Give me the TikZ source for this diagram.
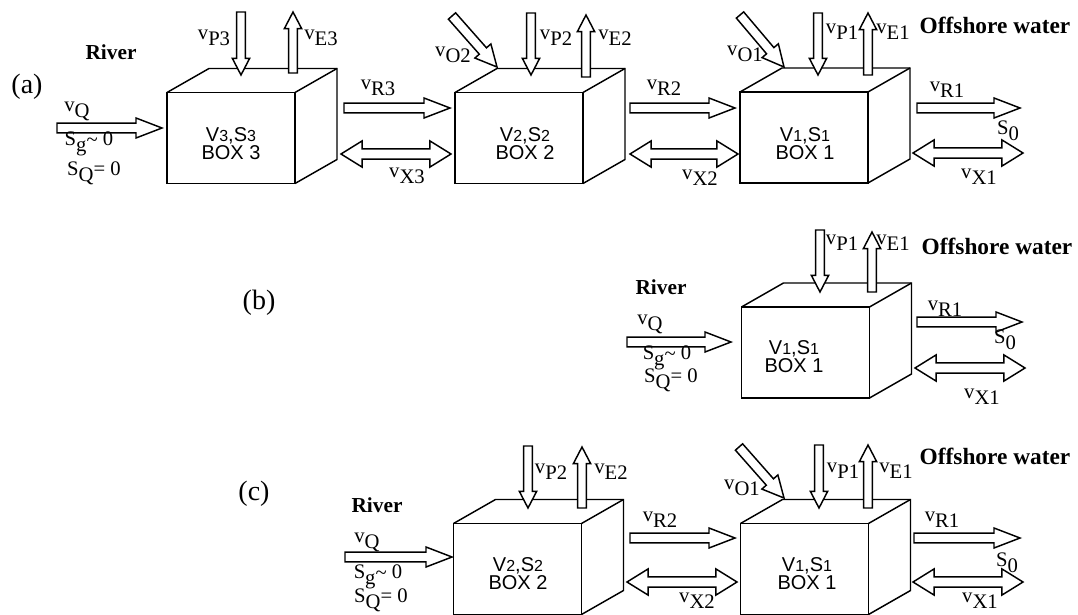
\documentclass[tikz,border=0pt]{standalone}
\usepackage{fontspec}
\setmainfont{Liberation Serif}
\setsansfont{Liberation Sans}
\usetikzlibrary{calc}

\newcommand{\sarrow}[6]{%
 \coordinate (#1-s) at (#2); \coordinate (#1-e) at (#3);
 \coordinate (#1-h) at ($(#1-e)!#6!(#1-s)$);
 \draw[blk] ($(#1-s)!#4!90:(#1-e)$) -- ($(#1-h)!#4!90:(#1-e)$) -- ($(#1-h)!#5!90:(#1-e)$) -- (#1-e) -- ($(#1-h)!#5!-90:(#1-e)$) -- ($(#1-h)!#4!-90:(#1-e)$) -- ($(#1-s)!#4!-90:(#1-e)$) -- cycle;}
\newcommand{\sdarrow}[6]{%
 \coordinate (#1-s) at (#2); \coordinate (#1-e) at (#3);
 \coordinate (#1-h1) at ($(#1-s)!#6!(#1-e)$);
 \coordinate (#1-h2) at ($(#1-e)!#6!(#1-s)$);
 \draw[blk] (#1-s) -- ($(#1-h1)!#5!90:(#1-e)$) -- ($(#1-h1)!#4!90:(#1-e)$) -- ($(#1-h2)!#4!90:(#1-e)$) -- ($(#1-h2)!#5!90:(#1-e)$) -- (#1-e) -- ($(#1-h2)!#5!-90:(#1-e)$) -- ($(#1-h2)!#4!-90:(#1-e)$) -- ($(#1-h1)!#4!-90:(#1-e)$) -- ($(#1-h1)!#5!-90:(#1-e)$) -- cycle;}
\newcommand{\harr}[3]{\sarrow{#1}{#2}{#3}{3.6pt}{7.5pt}{19.5pt}}
\newcommand{\varr}[3]{\sarrow{#1}{#2}{#3}{3.3pt}{6.5pt}{12.5pt}}
\newcommand{\oarr}[3]{\sarrow{#1}{#2}{#3}{3.6pt}{8pt}{16pt}}
\newcommand{\darr}[3]{\sdarrow{#1}{#2}{#3}{3.8pt}{9.8pt}{15.8pt}}
\newcommand{\cube}[2]{%
 \node[boxf] (#1) at (#2) {};
 \draw[edge] (#1.north west) -- ++(42,-24) coordinate (#1-tl) -- ++(128,0) coordinate (#1-tr) -- ($(#1.south east)+(42,-24)$) coordinate (#1-br) -- (#1.south east);
 \draw[edge] (#1.north east) -- (#1-tr);}
\newcommand{\vs}[1]{v\raisebox{-4.5pt}{#1}}
\newcommand{\dg}[1]{{\fontsize{12}{13}\selectfont #1}}
\newcommand{\sg}{S\raisebox{-4.5pt}{g}\raisebox{-1pt}{\textasciitilde}\ 0}
\newcommand{\sq}{S\raisebox{-4.5pt}{Q}=\ 0}
\newcommand{\szero}{S\raisebox{-4.5pt}{0}}

\tikzset{
 blk/.style={draw=black, line width=1.1pt, fill=white, line join=miter},
 edge/.style={draw=black, line width=1.1pt, line join=miter},
 boxf/.style={draw=black, line width=1.1pt, minimum width=96pt, minimum height=68.25pt, inner sep=0pt, outer sep=0pt},
 lab/.style={font=\fontsize{15.5}{17}\selectfont, inner sep=0pt},
 bld/.style={font=\fontsize{16}{18}\selectfont\bfseries, inner sep=0pt},
 off/.style={font=\fontsize{17.5}{19}\selectfont\bfseries, inner sep=0pt},
 pan/.style={font=\fontsize{21}{23}\selectfont, inner sep=0pt},
 btxt/.style={font=\sffamily\fontsize{15}{13.5}\selectfont, align=center, inner sep=0pt},
}

\begin{document}
\begin{tikzpicture}[x=0.75pt, y=-0.75pt]
\useasboundingbox (0,0) rectangle (1078,614);

% ================= (a) =================
\cube{a3}{231,138}
\cube{a2}{519,138}
\cube{a1}{804,137.5}
\node[btxt] (a3t) at (231,144) {V\dg{3},S\dg{3}\\BOX 3};
\node[btxt] (a2t) at (525,144) {V\dg{2},S\dg{2}\\BOX 2};
\node[btxt] (a1t) at (805,144) {V\dg{1},S\dg{1}\\BOX 1};

\harr{aQ}{57,128}{162,128}
\varr{aP3}{241,12}{241,75}
\varr{aE3}{293,73}{293,12}
\harr{aR3}{344,108}{450,108}
\darr{aX3}{341,154}{451,154}
\oarr{aO2}{452,16}{497,67}
\varr{aP2}{531,13}{531,75}
\varr{aE2}{586,77}{586,15}
\harr{aR2}{630,108}{735,108}
\darr{aX2}{630,154}{738,154}
\oarr{aO1}{740,15}{784,67}
\varr{aP1}{818,13}{818,75}
\varr{aE1}{868,75}{868,13}
\harr{aR1}{917,108}{1020,108}
\darr{aX1}{913,153}{1023,153}

\node[pan] (la) at (27,87) {(a)};
\node[bld] (ariver) at (111,52) {River};
\node[lab] (aVQ) at (77,111) {\vs{Q}};
\node[lab] (aSg) at (89,144) {\sg};
\node[lab] (aSQ) at (94,173) {\sq};
\node[lab] (aVP3) at (214,38) {\vs{P3}};
\node[lab] (aVE3) at (321,38) {\vs{E3}};
\node[lab] (aVR3) at (378,88) {\vs{R3}};
\node[lab] (aVX3) at (407,176) {\vs{X3}};
\node[lab] (aVO2) at (453,55) {\vs{O2}};
\node[lab] (aVP2) at (556,38) {\vs{P2}};
\node[lab] (aVE2) at (615,38) {\vs{E2}};
\node[lab] (aVR2) at (664,88) {\vs{R2}};
\node[lab] (aVX2) at (700,178) {\vs{X2}};
\node[lab] (aVO1) at (745,54) {\vs{O1}};
\node[lab] (aVP1) at (842,32) {\vs{P1}};
\node[lab] (aVE1) at (893,32) {\vs{E1}};
\node[off] (aoff) at (995,25) {Offshore water};
\node[lab] (aVR1) at (947,90) {\vs{R1}};
\node[lab] (aS0) at (1008,131) {\szero};
\node[lab] (aVX1) at (979,177) {\vs{X1}};

% ================= (b) =================
\cube{b1}{805.5,352.5}
\node[btxt] (b1t) at (794,357) {V\dg{1},S\dg{1}\\BOX 1};
\harr{bQ}{627,342}{731,342}
\varr{bP1}{820,230}{820,292}
\varr{bE1}{872,292}{872,232}
\harr{bR1}{917,322}{1022,322}
\darr{bX1}{915,368}{1025,368}

\node[pan] (lb) at (259,303) {(b)};
\node[bld] (briver) at (661,287) {River};
\node[lab] (bVQ) at (650,324) {\vs{Q}};
\node[lab] (bSg) at (667,358) {\sg};
\node[lab] (bSQ) at (671,380) {\sq};
\node[lab] (bVP1) at (842,243) {\vs{P1}};
\node[lab] (bVE1) at (893,243) {\vs{E1}};
\node[off] (boff) at (997,246) {Offshore water};
\node[lab] (bVR1) at (945,309) {\vs{R1}};
\node[lab] (bS0) at (1005,340) {\szero};
\node[lab] (bVX1) at (982,397) {\vs{X1}};

% ================= (c) =================
\cube{c2}{517.5,569}
\cube{c1}{804.5,569}
\node[btxt] (c2t) at (518,574) {V\dg{2},S\dg{2}\\BOX 2};
\node[btxt] (c1t) at (807,574) {V\dg{1},S\dg{1}\\BOX 1};
\harr{cQ}{345,557}{452,557}
\varr{cP2}{528,446}{528,508}
\varr{cE2}{582,508}{582,447}
\harr{cR2}{630,538}{735,538}
\darr{cX2}{627,582}{737,582}
\oarr{cO1}{739,447}{784,498}
\varr{cP1}{819,445}{819,508}
\varr{cE1}{868,508}{868,445}
\harr{cR1}{914,538}{1020,538}
\darr{cX1}{913,582}{1023,582}

\node[pan] (lc) at (254,494) {(c)};
\node[bld] (criver) at (377,505) {River};
\node[lab] (cVQ) at (367,542) {\vs{Q}};
\node[lab] (cSg) at (378,577) {\sg};
\node[lab] (cSQ) at (381,600) {\sq};
\node[lab] (cVP2) at (551,472) {\vs{P2}};
\node[lab] (cVE2) at (611,472) {\vs{E2}};
\node[lab] (cVR2) at (660,520) {\vs{R2}};
\node[lab] (cVX2) at (697,601) {\vs{X2}};
\node[lab] (cVO1) at (742,488) {\vs{O1}};
\node[lab] (cVP1) at (843,471) {\vs{P1}};
\node[lab] (cVE1) at (896,471) {\vs{E1}};
\node[off] (coff) at (995,456) {Offshore water};
\node[lab] (cVR1) at (942,520) {\vs{R1}};
\node[lab] (cS0) at (1007,563) {\szero};
\node[lab] (cVX1) at (980,601) {\vs{X1}};
\end{tikzpicture}
\end{document}
